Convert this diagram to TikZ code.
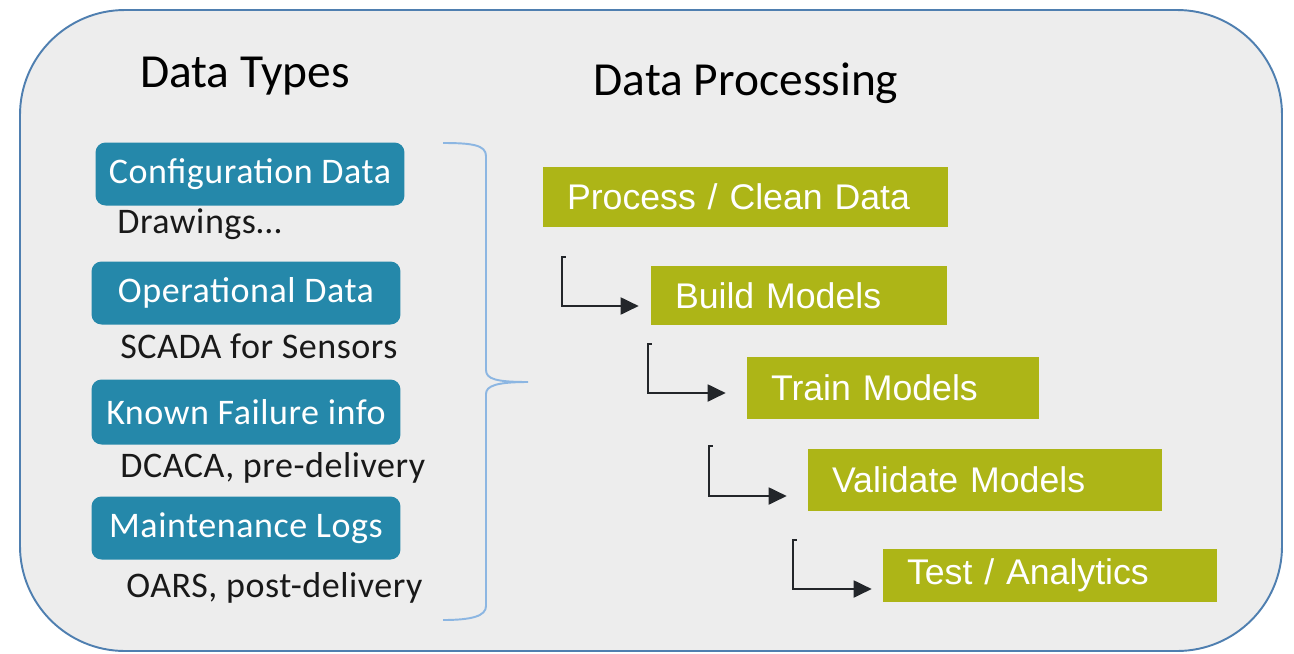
\documentclass[tikz,border=0pt]{standalone}
\usepackage{fontspec}
\setmainfont{Carlito}
\newfontfamily\arialfont{Liberation Sans}
\newfontfamily\spacedfont[LetterSpace=1.5]{Carlito}
\usepackage{xcolor}
\usepackage{tikz}
\usetikzlibrary{arrows.meta}
\definecolor{panelfill}{HTML}{EDEDED}
\definecolor{panelline}{HTML}{4F7FB0}
\definecolor{typeblue}{HTML}{2588AA}
\definecolor{stepgreen}{HTML}{ADB517}
\definecolor{bracecol}{HTML}{8CB6E2}
\definecolor{arrowcol}{HTML}{23262A}

\begin{document}
\begin{tikzpicture}[
    x=0.02cm, y=-0.02cm,
    frame/.style={
      draw=panelline, line width=1.1pt,
      fill=panelfill, rounded corners=2.1cm
    },
    title/.style={
      font=\fontsize{27}{30}\selectfont,
      text=black, anchor=base, inner sep=0pt
    },
    typebox/.style={
      rectangle, rounded corners=0.2cm,
      fill=typeblue, text=white,
      font=\spacedfont\fontsize{20.5}{24}\selectfont,
      minimum width=6.18cm, minimum height=1.26cm, inner sep=0pt
    },
    note/.style={
      font=\spacedfont\fontsize{20.5}{24}\selectfont,
      text=black!90, anchor=base west, inner sep=0pt
    },
    stepbox/.style={
      rectangle, fill=stepgreen, text=white,
      font=\arialfont\fontsize{20.3}{24}\selectfont,
      align=left, inner xsep=0.48cm, inner ysep=0pt
    },
    elbow/.style={-{Triangle[length=0.36cm, width=0.34cm]}, line width=1.1pt, draw=arrowcol},
    brace/.style={draw=bracecol, line width=1.1pt}
  ]

    \useasboundingbox (0,0) rectangle (1294,653);

    % ── Panel ─────────────────────────────────────────────────────────────
    \draw[frame] (20,10) rectangle (1282,651);

    % ── Titles ────────────────────────────────────────────────────────────
    \node[title] (t_types) at (245,87) {Data Types};
    \node[title] (t_proc)  at (746,95) {Data Processing};

    % ── DATA TYPES column ─────────────────────────────────────────────────
    \node[typebox] (d_config) at (250,174) {Configuration Data};
    \node[note]    (n_config) at (117,233) {Drawings…};

    \node[typebox] (d_oper) at (246,293) {Operational Data};
    \node[note]    (n_oper) at (120,358) {SCADA for Sensors};

    \node[typebox, minimum height=1.3cm] (d_fail) at (246,412) {Known Failure info};
    \node[note]    (n_fail) at (120,477) {DCACA, pre-delivery};

    \node[typebox] (d_maint) at (246,528) {Maintenance Logs};
    \node[note]    (n_maint) at (126,597) {OARS, post-delivery};

    % ── Brace ─────────────────────────────────────────────────────────────
    \draw[brace] (443,143) .. controls (472,143) and (486,145) .. (486,156)
      -- (486,370) .. controls (486,379) and (496,382) .. (528,382)
      .. controls (496,382) and (486,386) .. (486,394)
      -- (486,606) .. controls (486,616) and (472,620) .. (443,620);

    % ── DATA PROCESSING steps ─────────────────────────────────────────────
    \node[stepbox, text width=7.14cm, minimum height=1.2cm]  (s_clean) at (745.5,197) {Process / Clean Data};
    \node[stepbox, text width=4.96cm, minimum height=1.18cm] (s_build) at (799,295.5) {Build Models};
    \node[stepbox, text width=4.88cm, minimum height=1.24cm] (s_train) at (893,388)   {Train Models};
    \node[stepbox, text width=6.12cm, minimum height=1.24cm] (s_valid) at (985,480)   {Validate Models};
    \node[stepbox, text width=5.72cm, minimum height=1.06cm] (s_test)  at (1050,575.5) {Test / Analytics};

    % ── Elbow arrows ──────────────────────────────────────────────────────
    \coordinate (k_build) at (562,257);
    \coordinate (k_train) at (648,344);
    \coordinate (k_valid) at (709,446);
    \coordinate (k_test)  at (793,540);

    \draw[elbow, shorten >=0.24cm] ([xshift=0.07cm]k_build) -- (k_build) |- ([yshift=-0.21cm]s_build.west);
    \draw[elbow, shorten >=0.42cm] ([xshift=0.07cm]k_train) -- (k_train) |- ([yshift=-0.10cm]s_train.west);
    \draw[elbow, shorten >=0.42cm] ([xshift=0.07cm]k_valid) -- (k_valid) |- ([yshift=-0.32cm]s_valid.west);
    \draw[elbow, shorten >=0.22cm] ([xshift=0.07cm]k_test)  -- (k_test)  |- ([yshift=-0.27cm]s_test.west);

  \end{tikzpicture}
\end{document}
